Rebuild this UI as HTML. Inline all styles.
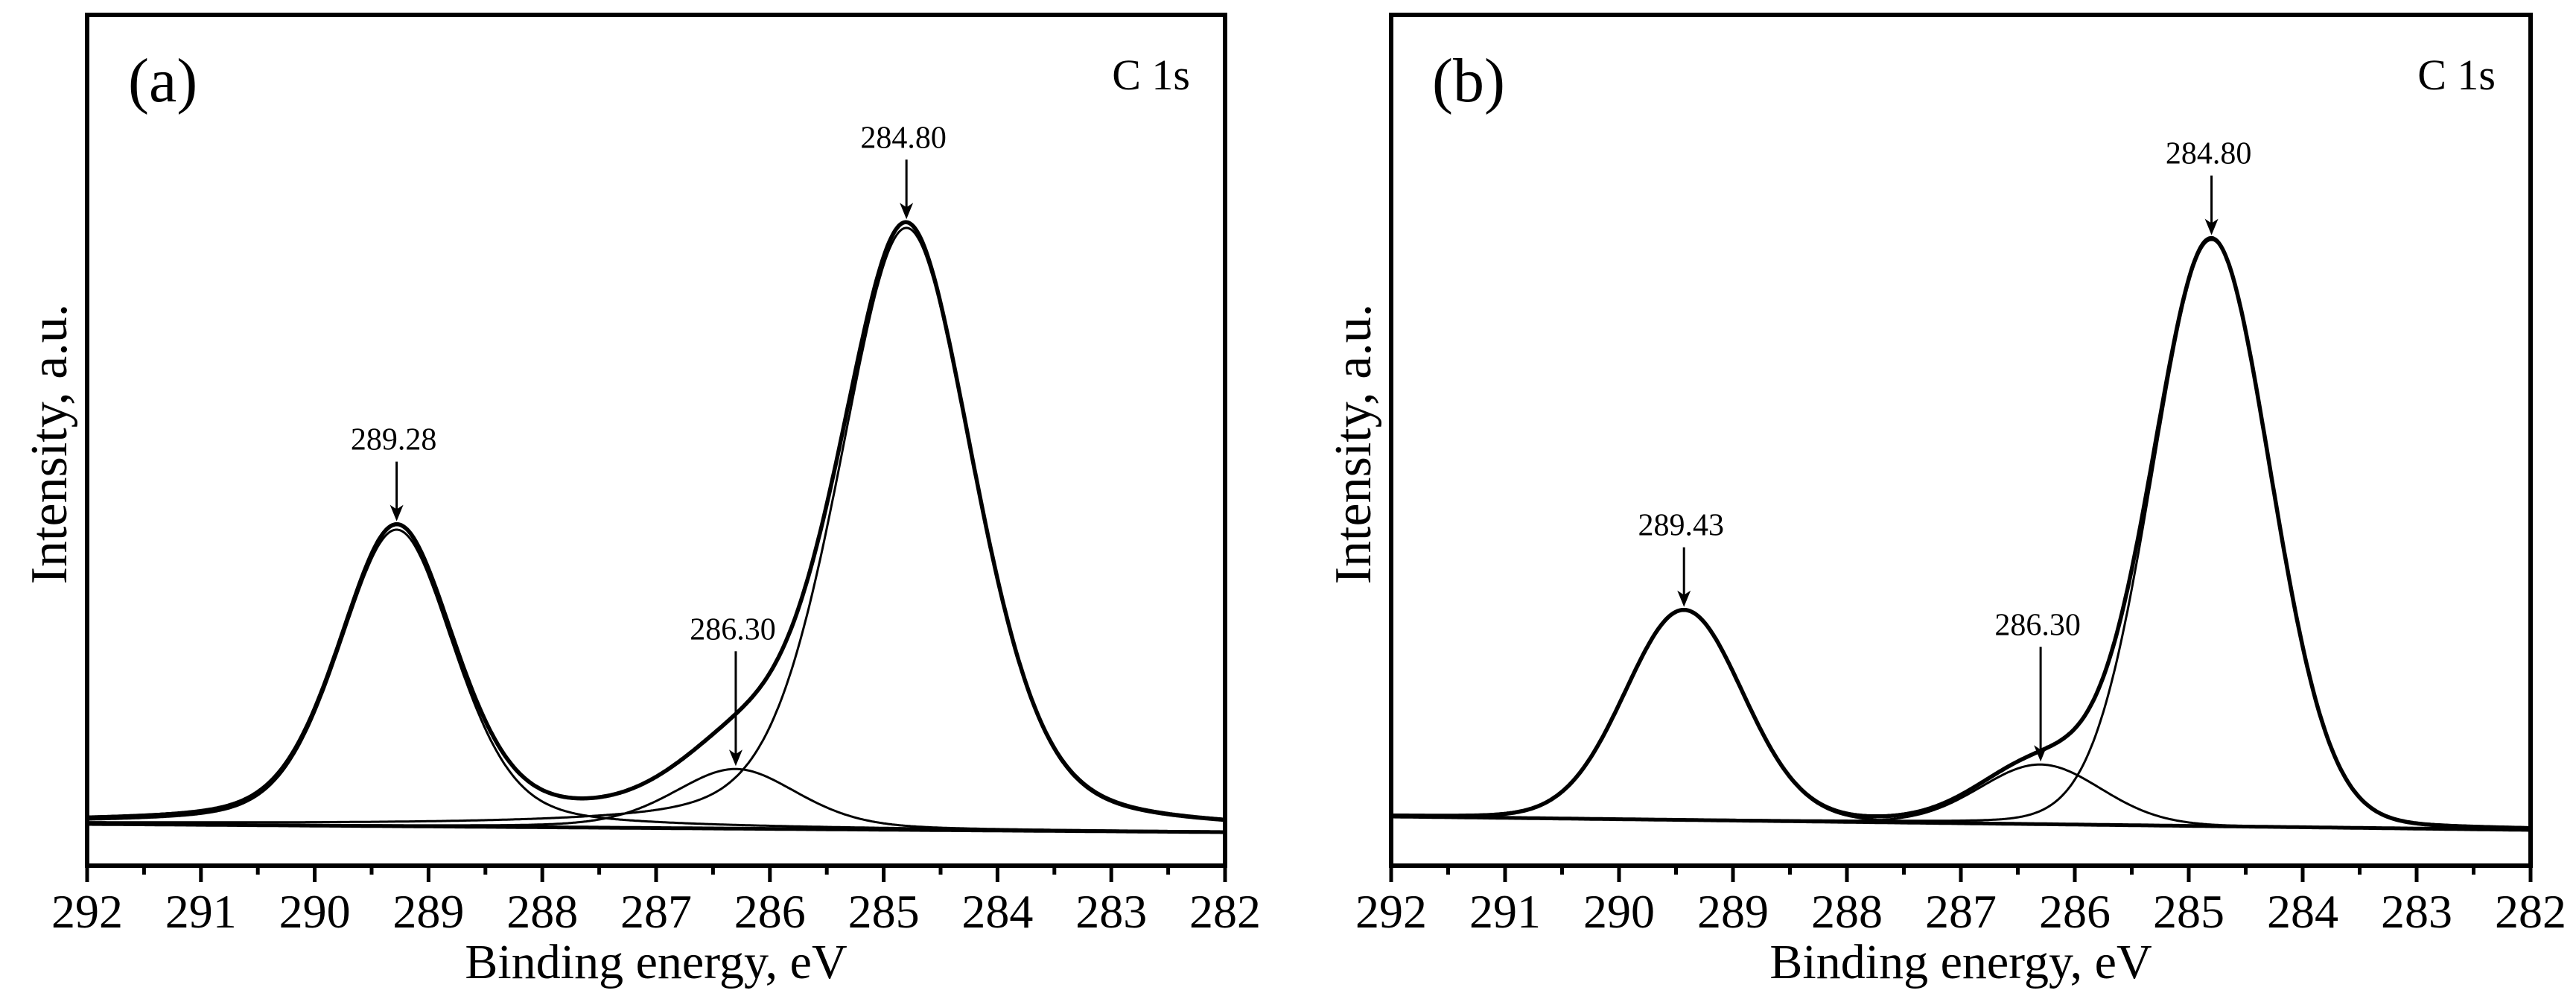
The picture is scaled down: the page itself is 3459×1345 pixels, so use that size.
<!DOCTYPE html>
<html><head><meta charset="utf-8">
<style>
html,body{margin:0;padding:0;background:#fff;}
svg{display:block;}
text{font-family:"Liberation Serif","Times New Roman",serif;fill:#000;}
</style></head>
<body>
<svg id="fig" width="3459" height="1345" viewBox="0 0 3459 1345" xmlns="http://www.w3.org/2000/svg"></svg>
<script>
// ---- data ----
const xTicks = [292,291,290,289,288,287,286,285,284,283,282];
const xTickLabels = ["292","291","290","289","288","287","286","285","284","283","282"];
const panelLetters = ["(a)","(b)"];
// peak centers (eV), heights (a.u. above background), FWHM (eV), Lorentzian fraction
const centersA = [289.28, 286.30, 284.80];
const heightsA = [398, 80, 808];
const fwhmA = [1.2, 1.3, 1.4];
const lorFracA = 0.32;
const bgA = [56, 45];          // background at 292 eV and 282 eV
const labelsA = ["289.28","286.30","284.80"];

const centersB = [289.43, 286.30, 284.80];
const heightsB = [281, 80, 787];
const fwhmB = [1.22, 1.25, 1.22];
const lorFracB = 0.06;
const bgB = [66, 48];
const labelsB = ["289.43","286.30","284.80"];

// ---- layout ----
const NS = "http://www.w3.org/2000/svg";
const svg = document.getElementById('fig');
function mk(tag, attrs, parent){
  const e = document.createElementNS(NS, tag);
  for (const k in attrs) e.setAttribute(k, attrs[k]);
  (parent||svg).appendChild(e);
  return e;
}
const TOP = 20, BOTTOM = 1162;

function drawPanel(idx, left, right, centers, heights, fwhm, lf, bg, labels){
  const g = mk('g', {});
  
  
  const xs = e => left + (292 - e) / 10 * (right - left);
  const ys = v => BOTTOM - v;
  const bgAt = e => bg[0] + (bg[1]-bg[0]) * (292 - e) / 10;
  const peak = (e, i) => {
    const d = 2*(e - centers[i]) / fwhm[i];
    const G = Math.exp(-Math.LN2 * d * d);
    const L = 1 / (1 + d*d);
    return heights[i] * ((1-lf)*G + lf*L);
  };
  const N = 800;
  function pathFor(fn){
    let s = '';
    for (let k=0;k<=N;k++){
      const e = 292 - 10*k/N;
      s += (k?'L':'M') + xs(e).toFixed(1) + ' ' + ys(fn(e)).toFixed(1);
    }
    return s;
  }
  const cp = mk('clipPath', {id:'clip'+idx}, g);
  mk('rect', {x:left, y:TOP, width:right-left, height:BOTTOM-TOP}, cp);
  const plot = mk('g', {'clip-path':'url(#clip'+idx+')'}, g);
  const bgl = mk('path', {d:pathFor(bgAt), fill:'none', stroke:'#000','stroke-width':5}, plot);
  
  
  for (let i=0;i<centers.length;i++){
    const c = mk('path', {d:pathFor(e => bgAt(e) + peak(e,i)), fill:'none', stroke:'#000','stroke-width':3}, plot);
    
    
  }
  const env = mk('path', {d:pathFor(e => { let s=bgAt(e); for(let i=0;i<centers.length;i++) s+=peak(e,i); return s; }), fill:'none', stroke:'#000','stroke-width':5.5,'stroke-linejoin':'round'}, plot);
  
  
  const fr = mk('rect', {x:left, y:TOP, width:right-left, height:BOTTOM-TOP, fill:'none', stroke:'#000','stroke-width':6}, g);
  
  
  for (let i=0;i<xTicks.length;i++){
    const x = xs(xTicks[i]);
    const t = mk('line', {x1:x, y1:BOTTOM, x2:x, y2:BOTTOM+22, stroke:'#000','stroke-width':5}, g);
    
    
    const lb = mk('text', {x:x, y:1245, 'font-size':64, 'text-anchor':'middle'}, g);
    lb.textContent = xTickLabels[i];
    
    
    if (i < xTicks.length-1){
      const xm = xs(xTicks[i]-0.5);
      const m = mk('line', {x1:xm, y1:BOTTOM, x2:xm, y2:BOTTOM+12, stroke:'#000','stroke-width':5}, g);
      
      
    }
  }
  const xt = mk('text', {x:(left+right)/2, y:1313, 'font-size':66, 'text-anchor':'middle'}, g);
  xt.textContent = 'Binding energy, eV';
  
  
  const yx = left - 50;
  const yt = mk('text', {x:0, y:0, 'font-size':70, 'text-anchor':'middle', transform:'translate('+(yx+22)+',596) rotate(-90)'}, g);
  yt.textContent = 'Intensity, a.u.';
  
  
  const pl = mk('text', {x:left+55, y:136, 'font-size':84}, g);
  pl.textContent = panelLetters[idx];
  
  
  const cl = mk('text', {x:right-47, y:120, 'font-size':58, 'text-anchor':'end'}, g);
  cl.textContent = 'C 1s';
  
  
  for (let i=0;i<centers.length;i++){
    const e = centers[i];
    const x = xs(e);
    let tot = bgAt(e); for (let j=0;j<centers.length;j++) tot += peak(e,j);
    const tipY = ys(i===1 ? bgAt(e)+peak(e,i) : tot) - 4;
    const len = i===1 ? 154 : 80;
    const a = mk('g', {}, g);
    
    
    mk('line', {x1:x, y1:tipY-len, x2:x, y2:tipY-14, stroke:'#000','stroke-width':3}, a);
    mk('path', {d:'M'+(x-9)+' '+(tipY-22)+' L'+x+' '+tipY+' L'+(x+9)+' '+(tipY-22)+' L'+x+' '+(tipY-16)+'Z', fill:'#000'}, a);
    const t = mk('text', {x:x-4, y:tipY-len-16, 'font-size':42, 'text-anchor':'middle'}, a);
    t.textContent = labels[i];
  }
}
drawPanel(0, 117, 1645, centersA, heightsA, fwhmA, lorFracA, bgA, labelsA);
drawPanel(1, 1868, 3398, centersB, heightsB, fwhmB, lorFracB, bgB, labelsB);
</script>
</body></html>
